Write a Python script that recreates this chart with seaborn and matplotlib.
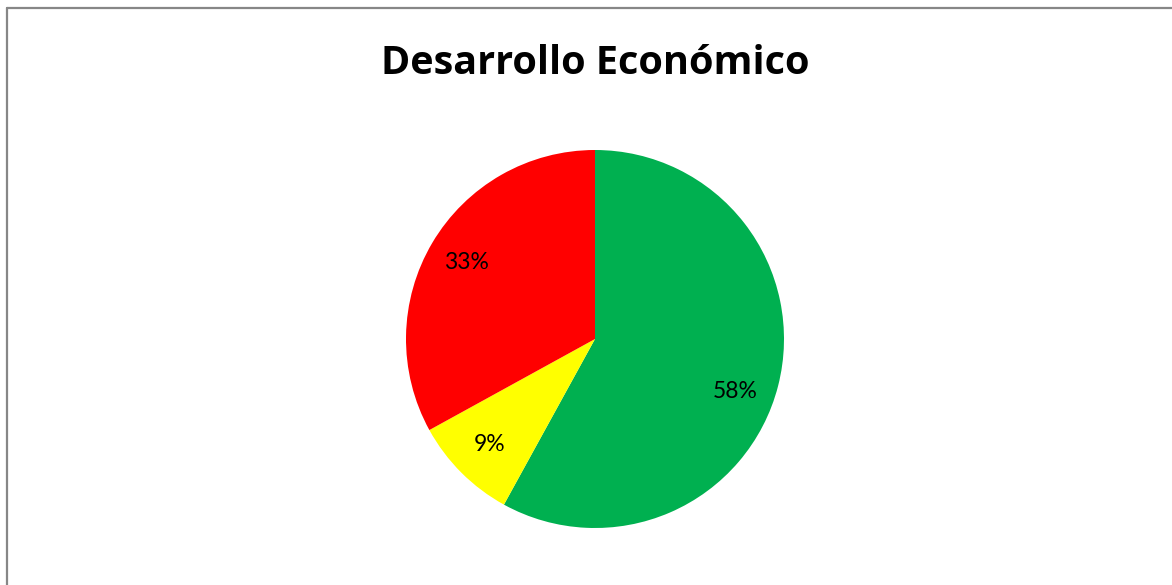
import matplotlib
matplotlib.use('Agg')
import matplotlib.pyplot as plt
import numpy as np
import seaborn as sns
from matplotlib.lines import Line2D

# 数据
categories = ['Alto', 'Medio', 'Bajo']
shares = [58, 9, 33]
slice_colors = ['#00B050', '#FFFF00', '#FF0000']
title_text = 'Desarrollo Económico'

sns.set_theme(style='white')
plt.rcParams['font.family'] = ['Open Sans', 'DejaVu Sans']

fig = plt.figure(figsize=(11.72, 5.85), dpi=100)
fig.patch.set_facecolor('white')

# 饼图所在区域（正方形像素）
W, H = 1172, 585
ax = fig.add_axes([406 / W, 57 / H, 378 / W, 378 / H])
wedges, texts, autotexts = ax.pie(
    shares,
    colors=slice_colors,
    startangle=90,
    counterclock=False,
    autopct='%1.0f%%',
    pctdistance=0.79,
    radius=1.0,
    wedgeprops={'linewidth': 0},
    textprops={'fontsize': 16.5, 'color': 'black', 'family': ['Lato', 'DejaVu Sans']},
)
ax.set_xlim(-1, 1)
ax.set_ylim(-1, 1)
ax.set_aspect('equal')
ax.axis('off')

# 绿色扇区的标签位置略微下移（Excel 的最佳位置）
w0 = wedges[0]
ang = np.deg2rad((w0.theta1 + w0.theta2) / 2 - 6)
autotexts[0].set_position((0.79 * np.cos(ang), 0.79 * np.sin(ang)))

fig.text(595 / W, 1 - 64 / H, title_text, ha='center', va='center',
         fontsize=28.5, fontweight='bold', color='black')

# 外框（只有上边和左边可见）
border = '#878787'
fig.add_artist(Line2D([6.5 / W, 1], [1 - 7.5 / H, 1 - 7.5 / H], color=border, lw=1.6))
fig.add_artist(Line2D([6.5 / W, 6.5 / W], [0, 1 - 7.5 / H], color=border, lw=1.6))

fig.savefig('out.png', dpi=100)
